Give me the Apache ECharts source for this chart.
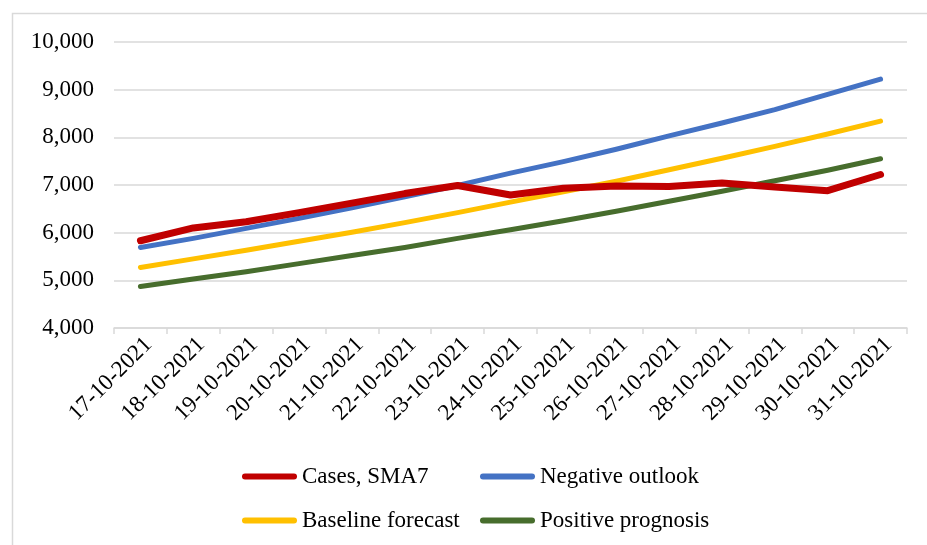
<!DOCTYPE html>
<html>
<head>
<meta charset="utf-8">
<title>Cases and outlooks, October 2021</title>
<script src="https://cdn.jsdelivr.net/npm/echarts@6/dist/echarts.min.js"></script>
<style>
  html, body { margin: 0; padding: 0; background: #ffffff; }
  #chart { width: 927px; height: 545px; }
</style>
</head>
<body>
<div id="chart"></div>
<script>
// Daily dates on the category axis
const dates = [
  '17-10-2021', '18-10-2021', '19-10-2021', '20-10-2021', '21-10-2021',
  '22-10-2021', '23-10-2021', '24-10-2021', '25-10-2021', '26-10-2021',
  '27-10-2021', '28-10-2021', '29-10-2021', '30-10-2021', '31-10-2021'
];

// Seven-day moving average of reported cases
const casesSma7 = [5830, 6100, 6230, 6420, 6620, 6820, 6990, 6790, 6930, 6980, 6970, 7040, 6960, 6880, 7220];

// Scenario projections
const negativeOutlook = [5690, 5880, 6090, 6300, 6520, 6750, 6990, 7250, 7490, 7750, 8030, 8300, 8580, 8900, 9220];
const baselineForecast = [5270, 5450, 5630, 5820, 6010, 6210, 6420, 6640, 6860, 7080, 7320, 7560, 7810, 8070, 8340];
const positivePrognosis = [4870, 5030, 5180, 5350, 5520, 5690, 5880, 6060, 6250, 6450, 6660, 6870, 7090, 7310, 7550];

// Value axis range and step
const yMin = 4000;
const yMax = 10000;
const yStep = 1000;

const FONT = '"Liberation Serif", "Times New Roman", serif';
const FONT_SIZE = 23;
const GRID_GRAY = '#D9D9D9';
const capsule = 'path://M3,0H52A3,3,0,0,1,52,6H3A3,3,0,0,1,3,0Z';

const chart = echarts.init(document.getElementById('chart'), null, { renderer: 'canvas' });

function lineSeries(name, data, color, width) {
  return {
    name: name,
    type: 'line',
    data: data,
    symbol: 'none',
    smooth: false,
    lineStyle: { color: color, width: width, cap: 'round', join: 'round' },
    itemStyle: { color: color },
    emphasis: { disabled: true }
  };
}

const legendText = { fontFamily: FONT, fontSize: FONT_SIZE, color: '#000000', lineHeight: 23 };

function legendColumn(left, names) {
  return {
    orient: 'vertical',
    left: left,
    top: 465,
    padding: 0,
    itemGap: 21,
    itemWidth: 55,
    itemHeight: 6,
    icon: capsule,
    selectedMode: false,
    textStyle: legendText,
    data: names
  };
}

chart.setOption({
  backgroundColor: '#ffffff',
  animation: false,
  textStyle: { fontFamily: FONT },
  graphic: [{
    type: 'rect',
    shape: { x: 12.5, y: 13.5, width: 940, height: 560 },
    style: { fill: 'none', stroke: GRID_GRAY, lineWidth: 1.5 },
    silent: true
  }],
  grid: {
    left: 114,
    right: 20,
    top: 42,
    bottom: 217,
    containLabel: false,
    outerBoundsMode: 'none'
  },
  legend: [
    legendColumn(242, ['Cases, SMA7', 'Baseline forecast']),
    legendColumn(480, ['Negative outlook', 'Positive prognosis'])
  ],
  xAxis: {
    type: 'category',
    data: dates,
    boundaryGap: true,
    axisLine: { show: true, lineStyle: { color: GRID_GRAY, width: 1.5 } },
    axisTick: { show: true, alignWithLabel: false, length: 6, lineStyle: { color: GRID_GRAY, width: 1.5 } },
    axisLabel: {
      interval: 0,
      rotate: 45,
      margin: 5,
      align: 'right',
      verticalAlign: 'top',
      fontFamily: FONT,
      fontSize: FONT_SIZE,
      color: '#000000'
    },
    splitLine: { show: false }
  },
  yAxis: {
    type: 'value',
    min: yMin,
    max: yMax,
    interval: yStep,
    axisLine: { show: false },
    axisTick: { show: false },
    axisLabel: {
      margin: 20,
      fontFamily: FONT,
      fontSize: FONT_SIZE,
      color: '#000000',
      formatter: function (v) { return v.toLocaleString('en-US'); }
    },
    splitLine: { show: true, lineStyle: { color: GRID_GRAY, width: 1.5 } }
  },
  series: [
    lineSeries('Positive prognosis', positivePrognosis, '#476D2D', 5),
    lineSeries('Baseline forecast', baselineForecast, '#FFC000', 5),
    lineSeries('Negative outlook', negativeOutlook, '#4472C4', 5),
    lineSeries('Cases, SMA7', casesSma7, '#C00000', 7)
  ]
});
</script>
</body>
</html>
